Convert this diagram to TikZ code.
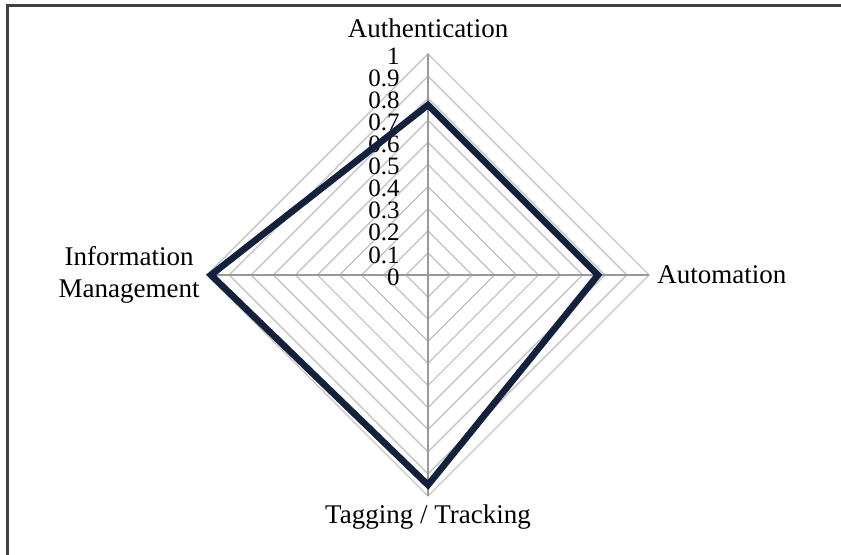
\documentclass[tikz,border=0pt]{standalone}
\usepackage{fontspec}
\setmainfont{Liberation Serif}
\usetikzlibrary{positioning}
\definecolor{navy}{HTML}{14213D}

\begin{document}
\begin{tikzpicture}[x=0.5pt,y=0.5pt,
    grid line/.style={draw=gray!45,line width=0.7pt},
    axis line/.style={draw=gray!80,line width=0.7pt},
    data line/.style={draw=navy,line width=3.3pt,line join=miter},
    axis label/.style={font=\fontsize{13.5}{16}\selectfont,inner sep=0pt},
    tick label/.style={font=\fontsize{12.5}{12.5}\selectfont,inner sep=0pt,anchor=east}]
  \useasboundingbox (-428,-280) rectangle (413,275);
  % frame
  \draw[line width=1.5pt,draw=black!75] (-420,-280) -- (-420,269) -- (413,269);

  \coordinate (c) at (0,0);
  \coordinate (auth) at (0,221);
  \coordinate (auto) at (221,0);
  \coordinate (tag) at (0,-221);
  \coordinate (info) at (-221,0);

  % grid
  \foreach \i in {1,...,10}
    \draw[grid line] (0,22.1*\i) -- (22.1*\i,0) -- (0,-22.1*\i) -- (-22.1*\i,0) -- cycle;
  \foreach \p in {auth,auto,tag,info}
    \draw[axis line] (c) -- (\p);

  % ticks
  \foreach \i in {0,...,10}
    \node[tick label] (t\i) at (-28,22.1*\i-2)
      {\ifnum\i=0 0\else\ifnum\i=10 1\else 0.\i\fi\fi};

  % data
  \coordinate (dauth) at (0,170);
  \coordinate (dauto) at (170,0);
  \coordinate (dtag) at (0,-210);
  \coordinate (dinfo) at (-217,0);
  \draw[data line] (dauth) -- (dauto) -- (dtag) -- (dinfo) -- cycle;

  % labels
  \node[axis label,above=8pt of auth] (lauth) {Authentication};
  \node[axis label,right=4pt of auto] (lauto) {Automation};
  \node[axis label,below=4pt of tag] (ltag) {Tagging / Tracking};
  \node[axis label,left=3.5pt of info,align=center] (linfo) {Information\\Management};
\end{tikzpicture}
\end{document}
